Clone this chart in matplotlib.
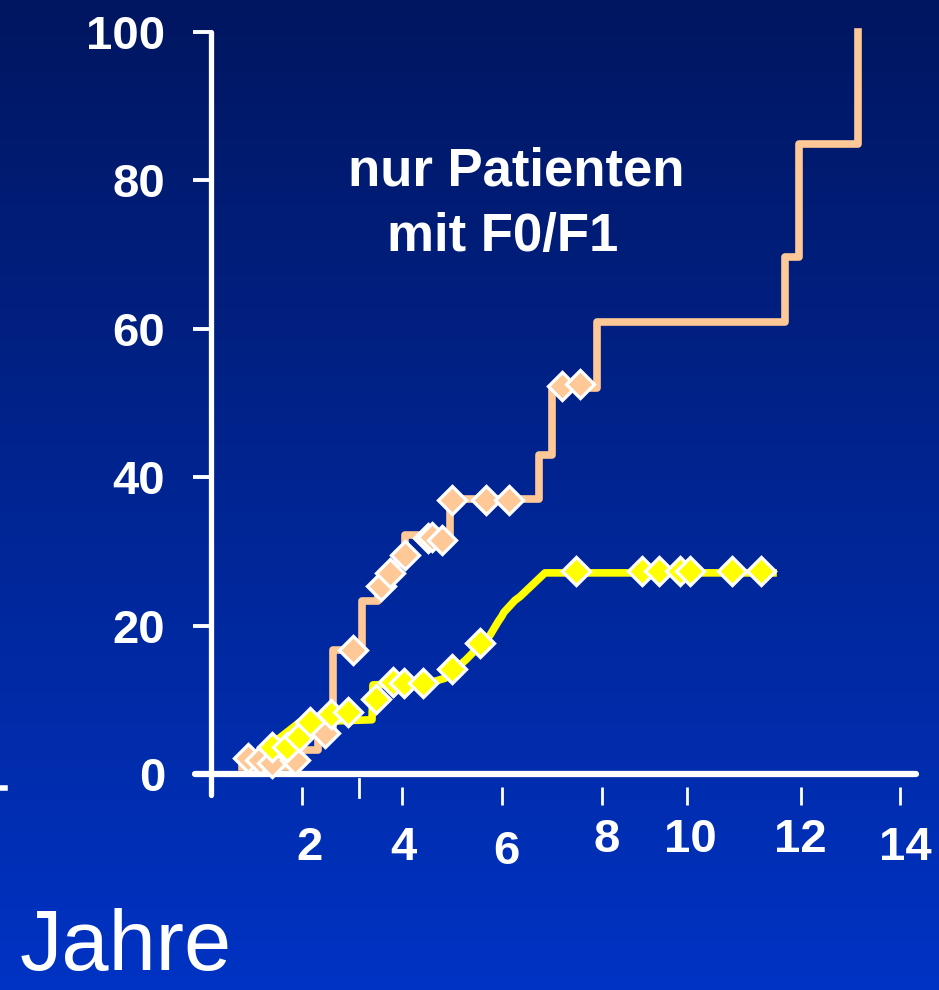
import numpy as np
import matplotlib
matplotlib.use("Agg")
import matplotlib.pyplot as plt
from matplotlib.lines import Line2D

plt.rcParams['font.family'] = ['Liberation Sans', 'DejaVu Sans']

# peach curve (Kaplan-Meier steps), years / percent
peach_x = [0.8, 1.9, 2.32, 2.62, 3.2, 3.52, 3.7, 3.9, 4.06, 4.96, 6.74, 7.0, 7.9, 11.66, 11.94, 13.12, 13.12]
peach_y = [1.0, 3.2, 5.3, 16.7, 23.3, 25.3, 27.0, 29.8, 32.2, 37.0, 43.0, 52.0, 60.9, 69.7, 84.9, 84.9, 100.0]

peach_mx = [0.92, 1.16, 1.4, 1.86, 2.46, 3.02, 3.58, 3.76, 4.06, 4.52, 4.6, 4.8, 5.0, 5.68, 6.14, 7.2, 7.56]
peach_my = [2.2, 1.9, 1.5, 1.9, 5.5, 16.7, 25.3, 27.1, 29.5, 31.8, 31.9, 31.5, 36.9, 36.9, 36.9, 52.3, 52.6]

# yellow curve
yellow_x = [1.2, 1.96, 3.4, 3.42, 4.56, 4.86, 5.28, 5.76, 5.92, 6.0, 6.04, 6.26, 6.36, 6.86, 11.42]
yellow_y = [3.0, 7.0, 7.3, 12.0, 12.3, 12.9, 15.4, 18.7, 20.5, 21.3, 21.8, 23.4, 23.9, 27.1, 27.1]

yellow_mx = [1.4, 1.7, 1.94, 2.16, 2.58, 2.92, 3.48, 3.82, 4.04, 4.42, 5.0, 5.56,
             7.48, 8.8, 9.14, 9.56, 9.76, 10.6, 11.18]
yellow_my = [3.6, 3.6, 5.0, 7.0, 8.1, 8.4, 10.1, 12.4, 12.3, 12.3, 14.2, 17.7,
             27.4, 27.4, 27.4, 27.4, 27.4, 27.4, 27.4]

yticks = [0, 20, 40, 60, 80, 100]
xtick_pos = [2.0, 4.0, 6.0, 8.0, 9.7, 11.98, 13.96]
xlabels = ['2', '4', '6', '8', '10', '12', '14']
xlabel_x = [2.16, 4.02, 6.08, 8.1, 9.76, 11.96, 14.06]
xlabel_y = [-10.0, -10.0, -10.5, -8.9, -8.9, -8.9, -10.0]

peach = '#FFC896'
yellow = '#FFFF00'

fig = plt.figure(figsize=(9.39, 9.9), dpi=100)

# background gradient
bg = fig.add_axes([0, 0, 1, 1], zorder=-10)
top = np.array([1, 22, 96]) / 255
bot = np.array([0, 51, 196]) / 255
t = np.linspace(0, 1, 256)[:, None]
grad = (top[None, :] * (1 - t) + bot[None, :] * t)[:, None, :]
bg.imshow(grad, aspect='auto', extent=[0, 1, 0, 1])
bg.axis('off')

ax = fig.add_axes([0.2247, 0.1869, 0.7572, 0.7883])
ax.patch.set_alpha(0)
ax.set_xlim(0.18, 14.4)
ax.set_ylim(-4.18, 101)

ax.step(peach_x, peach_y, where='post', color=peach, lw=5.5, zorder=3, clip_on=False)
ax.plot(yellow_x, yellow_y, color=yellow, lw=5.5, zorder=4)
ax.plot(peach_mx, peach_my, 'D', ms=14.5, mfc=peach, mec='white', mew=2.4, zorder=5, clip_on=False)
ax.plot(yellow_mx, yellow_my, 'D', ms=14.5, mfc=yellow, mec='white', mew=2.4, zorder=6, clip_on=False)

for s in ['top', 'right', 'bottom']:
    ax.spines[s].set_visible(False)
ax.spines['left'].set_color('white')
ax.spines['left'].set_linewidth(3.8)
ax.spines['left'].set_bounds(-2.83, 100)
ax.spines['left'].set_capstyle('round')

# x axis line
ax.plot([-0.14, 14.28], [0, 0], color='white', lw=4.5, clip_on=False,
        solid_capstyle='round', zorder=2)

ax.set_yticks(yticks)
ax.set_yticklabels([str(v) for v in yticks])
ax.tick_params(axis='y', direction='out', length=13, width=2.8, color='white',
               pad=20, labelcolor='white', labelsize=34)
for lab in ax.get_yticklabels():
    lab.set_fontweight('bold')

ax.set_xticks(xtick_pos)
ax.set_xticklabels([''] * len(xtick_pos))
ax.tick_params(axis='x', direction='in', length=13, width=2, color='white', bottom=True)
# extra short tick
ax.plot([3.14, 3.14], [-0.67, -3.1], color='white', lw=2, clip_on=False)

for lx, ly, s in zip(xlabel_x, xlabel_y, xlabels):
    ax.text(lx, ly, s, color='white', fontsize=34, fontweight='bold',
            ha='center', va='center', clip_on=False)

ax.text(6.28, 81.2, 'nur Patienten', color='white', fontsize=38, fontweight='bold',
        ha='center', va='center')
ax.text(6.02, 72.4, 'mit F0/F1', color='white', fontsize=38, fontweight='bold',
        ha='center', va='center')

fig.text(20 / 939, 0.002, 'Jahre', color='white', fontsize=61, ha='left', va='bottom')
fig.add_artist(Line2D([0, 5 / 939], [1 - 788 / 990, 1 - 788 / 990], color='white', lw=4))

fig.savefig('out.png', dpi=100)
